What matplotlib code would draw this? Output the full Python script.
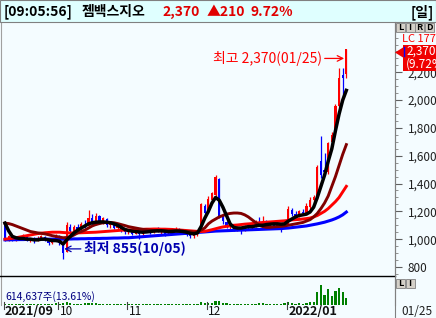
import numpy as np
import pandas as pd
import matplotlib
matplotlib.use("Agg")
import matplotlib.pyplot as plt
from matplotlib.patches import Rectangle, Polygon
from matplotlib.ticker import FixedLocator, MultipleLocator, FuncFormatter

plt.rcParams['font.family'] = ['Noto Sans CJK KR', 'DejaVu Sans']

# ---------------------------------------------------------------------------
# Data (daily candles 2021/09/07 .. 2022/01/25)
HOLIDAYS = ["2021-09-20", "2021-09-21", "2021-09-22", "2021-10-04", "2021-10-11", "2021-12-31"]
dates = pd.bdate_range("2021-09-07", "2022-01-25")
dates = dates[~dates.isin(pd.to_datetime(HOLIDAYS))]

opens = [1110, 1005, 1020, 1000, 1010, 1000, 1020, 995, 1005, 990, 1010, 1015, 995, 975, 990,
         1020, 960, 910, 1090, 1060, 1085, 1070, 1100, 1095, 1150, 1110, 1165, 1120, 1145, 1100, 1110, 1080, 1095, 1060,
         1050, 1065, 1040, 1060, 1035, 1065, 1070, 1050, 1075, 1060, 1065, 1045, 1070, 1065, 1075, 1050, 1060, 1030, 1020, 1035, 1060, 1240,
         1200, 1280, 1320, 1430, 1170, 1120, 1090, 1100, 1070, 1085, 1065, 1095, 1080, 1100, 1120, 1110, 1125, 1100, 1115, 1090, 1110, 1095,
         1110, 1210, 1180, 1170, 1195, 1190, 1230, 1280, 1300, 1560, 1500, 1480, 1700, 1780, 1960, 2180, 2190]
highs = [1125, 1030, 1030, 1015, 1020, 1035, 1025, 1010, 1015, 1020, 1030, 1020, 1005, 1000, 1040,
         1030, 975, 1125, 1110, 1100, 1110, 1120, 1140, 1210, 1180, 1190, 1175, 1160, 1150, 1130, 1120, 1110, 1100, 1080,
         1070, 1075, 1070, 1065, 1070, 1080, 1075, 1080, 1085, 1075, 1070, 1075, 1080, 1085, 1080, 1070, 1065, 1045, 1040, 1060, 1260, 1250,
         1310, 1340, 1460, 1440, 1180, 1130, 1110, 1105, 1095, 1090, 1100, 1100, 1110, 1140, 1160, 1170, 1140, 1125, 1120, 1120, 1115, 1120,
         1240, 1225, 1200, 1210, 1215, 1260, 1300, 1320, 1530, 1740, 1620, 1700, 1770, 1970, 2230, 2230, 2370]
lows = [990, 990, 985, 990, 995, 995, 985, 980, 975, 985, 1000, 990, 960, 965, 985,
        960, 855, 905, 1040, 1050, 1060, 1065, 1080, 1090, 1100, 1100, 1110, 1110, 1090, 1080, 1070, 1070, 1050, 1040,
        1040, 1030, 1035, 1000, 1030, 1050, 1040, 1045, 1055, 1040, 1020, 1040, 1055, 1060, 1045, 1045, 1020, 1010, 1005, 1025, 1055, 1180,
        1190, 1260, 1310, 1150, 1110, 1080, 1075, 1060, 1060, 1040, 1060, 1070, 1075, 1090, 1100, 1100, 1090, 1095, 1080, 1085, 1050, 1090,
        1100, 1170, 1150, 1160, 1180, 1180, 1220, 1260, 1290, 1440, 1470, 1470, 1690, 1770, 1950, 2020, 2160]
closes = [1000, 1020, 995, 1010, 1000, 1025, 990, 1005, 985, 1010, 1020, 995, 975, 990, 1030,
          970, 900, 1100, 1060, 1090, 1070, 1110, 1095, 1150, 1110, 1170, 1120, 1150, 1100, 1115, 1080, 1100, 1060, 1050,
          1065, 1040, 1060, 1035, 1065, 1070, 1050, 1075, 1060, 1070, 1040, 1070, 1065, 1075, 1050, 1065, 1030, 1020, 1035, 1050, 1250, 1190,
          1290, 1330, 1450, 1160, 1130, 1090, 1100, 1070, 1085, 1065, 1095, 1080, 1105, 1120, 1110, 1130, 1100, 1115, 1090, 1110, 1095, 1110,
          1220, 1180, 1170, 1200, 1190, 1240, 1280, 1300, 1520, 1460, 1480, 1690, 1750, 1960, 2160, 2160, 2370]

# moving averages as they appear on the chart (5 / 20 / 60 / 120 day)
ma5 = [1115, 1060, 1020, 1010, 1005, 1005, 1000, 1000, 995, 995, 1000, 1000, 995, 990, 990,
       985, 965, 995, 1020, 1045, 1065, 1080, 1095, 1110, 1118, 1122, 1124, 1124, 1122, 1118, 1110, 1100, 1085, 1070,
       1062, 1058, 1055, 1052, 1050, 1052, 1055, 1058, 1060, 1060, 1058, 1055, 1055, 1058, 1058, 1055, 1050, 1042, 1038, 1045, 1090, 1150,
       1200, 1260, 1300, 1280, 1230, 1170, 1110, 1085, 1080, 1080, 1085, 1090, 1090, 1095, 1100, 1100, 1105, 1108, 1110, 1110, 1108, 1110,
       1130, 1145, 1160, 1170, 1175, 1180, 1195, 1230, 1300, 1380, 1460, 1560, 1650, 1780, 1900, 2000, 2070]
ma20 = [1115, 1112, 1105, 1095, 1085, 1075, 1065, 1055, 1050, 1045, 1042, 1038, 1032, 1025, 1020,
        1015, 1010, 1012, 1018, 1030, 1045, 1055, 1065, 1080, 1095, 1105, 1112, 1118, 1120, 1120, 1118, 1112, 1105, 1098,
        1090, 1085, 1080, 1075, 1070, 1068, 1065, 1062, 1060, 1060, 1058, 1058, 1060, 1060, 1058, 1058, 1056, 1055, 1052, 1052, 1065, 1080,
        1110, 1130, 1145, 1160, 1170, 1180, 1185, 1188, 1188, 1185, 1175, 1160, 1140, 1120, 1100, 1090, 1085, 1085, 1088, 1090, 1092, 1095,
        1100, 1105, 1110, 1115, 1120, 1130, 1140, 1160, 1185, 1220, 1260, 1310, 1380, 1450, 1530, 1610, 1680]
ma60 = [1000, 1003, 1006, 1010, 1015, 1020, 1025, 1030, 1035, 1040, 1043, 1046, 1048, 1050, 1050,
        1050, 1048, 1046, 1045, 1045, 1045, 1046, 1047, 1048, 1049, 1050, 1052, 1054, 1056, 1058, 1060, 1062, 1064, 1065,
        1066, 1068, 1070, 1070, 1071, 1072, 1072, 1073, 1073, 1072, 1072, 1071, 1070, 1068, 1066, 1064, 1062, 1060, 1058, 1056, 1055, 1056,
        1062, 1068, 1075, 1082, 1088, 1092, 1096, 1100, 1102, 1105, 1108, 1110, 1112, 1115, 1118, 1120, 1122, 1124, 1126, 1128, 1130, 1132,
        1135, 1138, 1140, 1142, 1145, 1148, 1152, 1160, 1170, 1185, 1200, 1220, 1245, 1270, 1300, 1340, 1380]
ma120 = [995, 995, 996, 996, 997, 997, 998, 998, 998, 999, 999, 1000, 1000, 1000, 1000,
         1000, 1000, 1001, 1001, 1002, 1002, 1003, 1003, 1004, 1004, 1005, 1005, 1006, 1006, 1007, 1008, 1008, 1009, 1010,
         1010, 1012, 1014, 1016, 1018, 1020, 1022, 1024, 1026, 1028, 1030, 1032, 1034, 1036, 1038, 1040, 1042, 1044, 1046, 1048, 1050, 1052,
         1054, 1056, 1058, 1059, 1060, 1061, 1062, 1063, 1064, 1065, 1066, 1067, 1068, 1069, 1070, 1071, 1072, 1073, 1074, 1075, 1076, 1078,
         1080, 1083, 1086, 1089, 1092, 1095, 1100, 1105, 1110, 1116, 1122, 1130, 1138, 1148, 1160, 1175, 1195]

# volume, thousand shares
volumes = [80, 70, 60, 75, 65, 90, 70, 60, 80, 70, 65, 85, 95, 70, 110,
           90, 160, 240, 120, 90, 80, 70, 110, 180, 120, 100, 90, 80, 95, 70, 65, 60, 75, 60,
           70, 60, 55, 80, 65, 60, 70, 65, 60, 55, 70, 65, 60, 55, 70, 60, 80, 75, 65, 70, 210, 150,
           180, 160, 320, 280, 140, 110, 80, 70, 60, 65, 70, 60, 75, 90, 100, 110, 80, 70, 65, 60, 85, 110,
           260, 120, 90, 100, 80, 180, 220, 200, 1150, 1750, 900, 1400, 800, 1200, 1500, 1100, 615]

price_ticks = [800, 1000, 1200, 1400, 1600, 1800, 2000, 2200]
month_labels = ["2021/09", "10", "11", "12", "2022/01"]

# ---------------------------------------------------------------------------
W, H = 436, 318
BG = "#F4FCFF"
RED = "#FF0000"
BLUE = "#0000FF"


def fx(x):
    return x / W


def fy(y):
    return 1 - y / H


def box(x0, y0, x1, y1):
    return [fx(x0), fy(y1), fx(x1) - fx(x0), fy(y0) - fy(y1)]


fig = plt.figure(figsize=(W / 100, H / 100), dpi=100, facecolor=BG)

# title bar
fig.patches.append(Rectangle((0, fy(22)), 1, 1 - fy(22), transform=fig.transFigure,
                             facecolor="#DFFFFF", edgecolor="#808080", lw=0.8, zorder=0))
fig.text(fx(4), fy(12), "[09:05:56]", fontsize=10, weight="bold", va="center")
fig.text(fx(82), fy(12), "젬백스지오", fontsize=10, weight="bold", va="center")
fig.text(fx(162), fy(12), "2,370", fontsize=10, weight="bold", va="center", color="#E00000")
fig.text(fx(207), fy(12), "▲210", fontsize=10, weight="bold", va="center", color="#E00000")
fig.text(fx(250), fy(12), "9.72%", fontsize=10, weight="bold", va="center", color="#E00000")
fig.text(fx(434), fy(12), "[일]", fontsize=10, weight="bold", va="center", ha="right")

x = np.arange(len(dates))
o = np.array(opens)
c = np.array(closes)
up = c >= o
colors = np.where(up, RED, BLUE)

# ---------------------------------------------------------------------------
# price panel
ax = fig.add_axes(box(1, 22, 395, 276), facecolor=BG)
ax.vlines(x, lows, highs, colors=colors, lw=0.9, zorder=2)
ax.bar(x, np.maximum(np.abs(c - o), 6), bottom=np.minimum(o, c), width=0.62,
       color=colors, linewidth=0, zorder=2)
ax.plot(x, ma120, color="#0000FF", lw=2.2, zorder=3)
ax.plot(x, ma60, color="#FF0000", lw=2.1, zorder=3)
ax.plot(x, ma20, color="#800000", lw=2.1, zorder=3)
ax.plot(x, ma5, color="#000000", lw=2.5, zorder=4)

ax.set_xlim(-1.1, 107.4)
ax.set_ylim(735, 2562)
for s in ["top", "bottom"]:
    ax.spines[s].set_visible(False)
ax.spines["left"].set_color("#A0A0A0")
ax.spines["right"].set_color("#808080")
ax.set_xticks([])
ax.yaxis.tick_right()
ax.yaxis.set_major_locator(FixedLocator(price_ticks))
ax.yaxis.set_minor_locator(MultipleLocator(50))
ax.yaxis.set_major_formatter(FuncFormatter(lambda v, p: f"{int(v):,}"))
ax.tick_params(axis="y", which="major", length=5, width=0.8, color="#606060",
               labelsize=8.5, pad=4, labelcolor="#202020")
ax.tick_params(axis="y", which="minor", length=2.5, width=0.6, color="#808080")

# high / low annotations
ih = int(np.argmax(highs))
il = int(np.argmin(lows))
ax.annotate(f"최고 {highs[ih]:,}({dates[ih]:%m/%d})", xy=(ih - 0.6, highs[ih] - 70),
            xytext=(-16, 0), textcoords="offset points", ha="right", va="center",
            color=RED, fontsize=10,
            arrowprops=dict(arrowstyle="->", color=RED, lw=0.9, shrinkA=0, shrinkB=0))
ax.annotate(f"최저 {lows[il]:,}({dates[il]:%m/%d})", xy=(il + 0.3, lows[il] + 75),
            xytext=(14, 0), textcoords="offset points", ha="left", va="center",
            color="#0000B0", fontsize=10, weight="bold",
            arrowprops=dict(arrowstyle="->", color="#0000B0", lw=0.9, shrinkA=0, shrinkB=0))

# ---------------------------------------------------------------------------
# volume panel
vax = fig.add_axes(box(1, 277, 395, 305), facecolor=BG)
vax.bar(x, volumes, width=0.62, color="#008000", linewidth=0)
vax.set_xlim(-1.1, 107.4)
vax.set_ylim(-40, 2500)
vax.set_xticks([])
vax.set_yticks([])
for s in ["top", "bottom"]:
    vax.spines[s].set_visible(False)
vax.spines["left"].set_color("#A0A0A0")
vax.spines["right"].set_color("#808080")
vax.text(0.01, 0.3, f"{volumes[-1] * 1000 - 363:,}주(13.61%)", transform=vax.transAxes,
         fontsize=7.5, color="#000080", va="center")

# separator line above volume panel
fig.lines.append(plt.Line2D([0, fx(395)], [fy(276), fy(276)], transform=fig.transFigure,
                            color="black", lw=1))
# right axis line through date strip
fig.lines.append(plt.Line2D([fx(395), fx(395)], [0, fy(22)], transform=fig.transFigure,
                            color="#808080", lw=0.8))

# month labels on date strip
month_starts = [0] + [i for i in range(1, len(dates)) if dates[i].month != dates[i - 1].month]
to_fig = lambda xd: fx(1 + (xd + 1.1) / (107.4 + 1.1) * 394)
for idx, lab in zip(month_starts, month_labels):
    xp = to_fig(idx - 0.4)
    fig.lines.append(plt.Line2D([xp, xp], [fy(302), fy(309)], transform=fig.transFigure,
                                color="#404040", lw=0.8))
    bold = "/" in lab
    fig.text(xp + fx(1.5), fy(311.5), lab, fontsize=9 if bold else 8.5, va="center",
             weight="bold" if bold else "normal", color="#101010")
fig.text(fx(432), fy(311.5), f"{dates[-1]:%m/%d}", fontsize=8.5, va="center", ha="right", color="#202020")

# right side widgets
for k, ch in enumerate("LIRD"):
    x0 = 396 + k * 9.5
    fig.patches.append(Rectangle((fx(x0), fy(32)), fx(9), fy(23) - fy(32), transform=fig.transFigure,
                                 facecolor="#D4D0C8", edgecolor="#808080", lw=0.6, zorder=5))
    fig.text(fx(x0 + 4.5), fy(27.5), ch, fontsize=6.5, weight="bold", ha="center", va="center", zorder=6)
for k, ch in enumerate("LI"):
    x0 = 396 + k * 9.5
    fig.patches.append(Rectangle((fx(x0), fy(288)), fx(9), fy(279) - fy(288), transform=fig.transFigure,
                                 facecolor="#D4D0C8", edgecolor="#808080", lw=0.6, zorder=5))
    fig.text(fx(x0 + 4.5), fy(283.5), ch, fontsize=6.5, weight="bold", ha="center", va="center", zorder=6)

fig.text(fx(402), fy(39.5), "LC 177", fontsize=8, color=RED, va="center", zorder=6)
fig.patches.append(Rectangle((fx(403), fy(71)), fx(33), fy(45) - fy(71), transform=fig.transFigure,
                             facecolor="#F00000", edgecolor="none", zorder=7))
fig.patches.append(Polygon([[fx(395), fy(52.5)], [fx(403), fy(47.5)], [fx(403), fy(57.5)]],
                           closed=True, transform=fig.transFigure, facecolor="#F00000",
                           edgecolor="none", zorder=7))
fig.lines.append(plt.Line2D([fx(403.5), fx(403.5)], [fy(47), fy(56)], transform=fig.transFigure,
                            color=BLUE, lw=1, zorder=8))
fig.text(fx(406), fy(51.5), f"{closes[-1]:,}", fontsize=8.5, color="white", va="center", zorder=8)
fig.text(fx(406), fy(64.5), "(9.72%", fontsize=8.5, color="white", va="center", zorder=8)

fig.savefig("out.png", dpi=100, facecolor=BG)
